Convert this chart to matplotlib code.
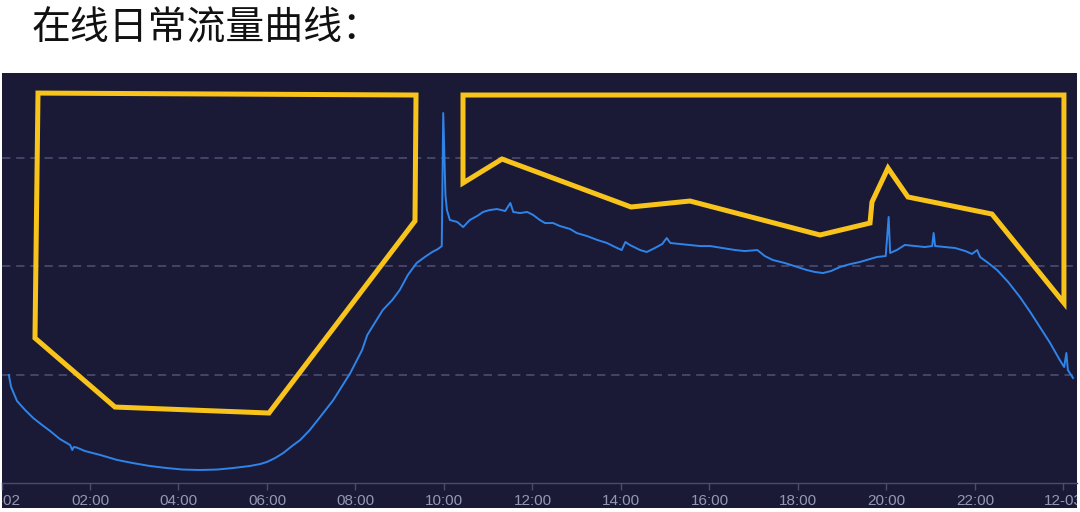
import matplotlib.pyplot as plt
from matplotlib.patches import Rectangle, Polygon
from matplotlib.transforms import Bbox, TransformedBbox

plt.rcParams['font.family'] = ['Noto Sans CJK SC', 'DejaVu Sans']

# 在线流量数据（分钟, 流量）
minutes = [10, 13, 21, 32, 43, 55, 66, 79, 93, 96, 98, 102, 113, 134, 157, 178,
           201, 224, 246, 269, 292, 314, 337, 351, 360, 371, 382, 394, 405, 418,
           432, 450, 462, 473, 482, 489, 496, 507, 517, 530, 540, 551, 563, 574,
           584, 592, 597, 599, 602, 604, 608, 618, 626, 635, 645, 653, 662, 672,
           683, 690, 694, 703, 713, 721, 730, 737, 748, 757, 771, 780, 794, 808,
           821, 832, 841, 846, 852, 866, 875, 886, 896, 902, 907, 920, 934, 947,
           961, 978, 995, 1008, 1025, 1035, 1046, 1062, 1079, 1092, 1103, 1114,
           1125, 1137, 1151, 1164, 1178, 1187, 1199, 1203, 1205, 1214, 1225, 1239,
           1252, 1262, 1264, 1266, 1279, 1293, 1307, 1316, 1323, 1327, 1338, 1350,
           1365, 1381, 1395, 1408, 1422, 1435, 1441, 1444, 1446, 1453]
traffic = [99.5, 88.5, 75.6, 67.3, 59.9, 53.5, 47.9, 40.6, 35.0, 30.4, 33.2, 32.7,
           29.5, 25.8, 21.2, 18.4, 15.7, 13.8, 12.4, 12.0, 12.4, 13.8, 15.7, 17.5,
           19.4, 23.0, 27.6, 34.1, 39.6, 48.8, 60.8, 76.5, 89.4, 101.4, 113.4,
           122.6, 136.4, 148.4, 159.4, 168.7, 177.9, 191.7, 202.8, 208.3, 212.9,
           215.7, 218.4, 341.0, 265.4, 251.6, 242.4, 240.6, 235.9, 242.4, 246.1,
           249.8, 251.6, 252.5, 250.7, 258.1, 249.8, 248.8, 249.8, 247.0, 242.4,
           239.6, 239.6, 236.9, 234.1, 230.4, 227.6, 224.0, 221.2, 217.5, 214.7,
           222.1, 219.4, 214.7, 212.9, 216.6, 220.3, 225.8, 221.2, 220.3, 219.4,
           218.4, 218.4, 216.6, 214.7, 213.8, 214.7, 209.2, 205.5, 202.8, 199.1,
           196.3, 194.5, 193.5, 195.4, 199.1, 201.8, 203.7, 206.5, 208.3, 209.2,
           245.2, 212.0, 214.7, 219.4, 218.4, 217.5, 218.4, 230.4, 218.4, 217.5,
           216.6, 213.8, 211.1, 214.7, 208.3, 202.8, 196.3, 185.3, 171.4, 157.6,
           143.8, 129.0, 113.4, 106.9, 119.8, 104.1, 96.8]

# 标注框（黄色手绘框）
box1_x = [49.5, 562.1, 560.7, 362.7, 153.9, 45.4]
box1_y = [359.4, 357.6, 241.5, 64.5, 70.0, 133.6]
box2_x = [625.8, 1440.7, 1440.7, 1343.1, 1229.2, 1202.1, 1180.4, 1177.7, 1109.9,
          933.6, 853.6, 678.7, 625.8]
box2_y = [357.6, 357.6, 165.9, 247.9, 263.6, 290.3, 259.0, 239.6, 228.6, 259.9,
          254.4, 298.6, 276.5]

tick_pos = [0, 120, 240, 360, 480, 600, 720, 840, 960, 1080, 1200, 1320, 1440]
tick_labels = ['12-02', '02:00', '04:00', '06:00', '08:00', '10:00', '12:00',
               '14:00', '16:00', '18:00', '20:00', '22:00', '12-03']

navy = '#1a1a36'
grid_c = '#4a4d70'

fig = plt.figure(figsize=(10.8, 5.12), dpi=100)
fig.patch.set_facecolor('white')

fig.text(32 / 1080, 1 - 28 / 512, '在线日常流量曲线：', fontsize=28,
         color='#111111', va='center', ha='left')

panel = [2 / 1080, 4 / 512, 1075 / 1080, 435 / 512]
bg = Rectangle((panel[0], panel[1]), panel[2], panel[3], transform=fig.transFigure,
               facecolor=navy, edgecolor='none', zorder=-5)
fig.patches.append(bg)

ax = fig.add_axes([1.5 / 1080, 29 / 512, 1075.5 / 1080, 410 / 512])
ax.set_facecolor(navy)
ax.set_xlim(0, 1458.4)
ax.set_ylim(0, 377.9)

for v in [100, 200, 300]:
    ax.axhline(v, color=grid_c, lw=1.2, linestyle=(0, (5, 3.5)), zorder=1)

ax.plot(minutes, traffic, color='#2f84ea', lw=1.4, zorder=3)

ax.add_patch(Polygon(list(zip(box1_x, box1_y)), closed=True, fill=False,
                     edgecolor='#f8c41c', lw=3.6, joinstyle='miter', zorder=4))
ax.add_patch(Polygon(list(zip(box2_x, box2_y)), closed=True, fill=False,
                     edgecolor='#f8c41c', lw=3.6, joinstyle='miter', zorder=4))

for s in ['top', 'left', 'right']:
    ax.spines[s].set_visible(False)
ax.spines['bottom'].set_color(grid_c)
ax.spines['bottom'].set_linewidth(1.0)

ax.set_yticks([])
ax.set_xticks(tick_pos)
ax.set_xticklabels(tick_labels, fontsize=11, color='#9598b2', family='Liberation Sans')
ax.tick_params(axis='x', length=5, width=1.0, color=grid_c, pad=3)

clip = TransformedBbox(Bbox.from_bounds(*panel), fig.transFigure)
for lbl in ax.get_xticklabels():
    lbl.set_clip_on(True)
    lbl.set_clip_box(clip)

fig.savefig('out.png', dpi=100, facecolor='white')
